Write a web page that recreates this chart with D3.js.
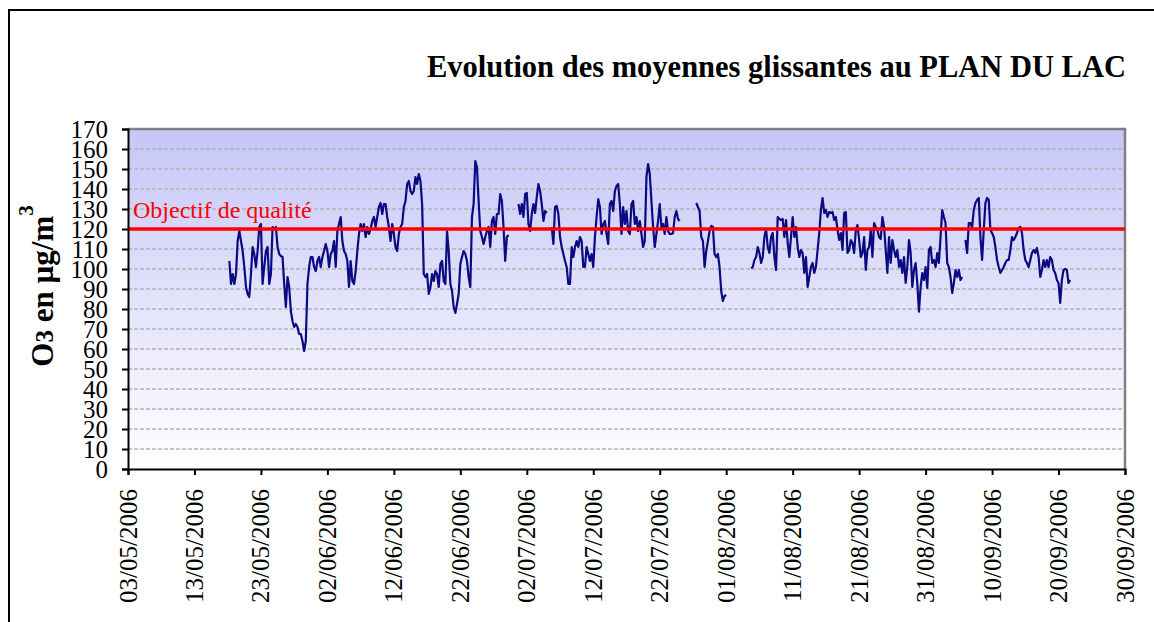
<!DOCTYPE html>
<html><head><meta charset="utf-8">
<script src="https://cdn.jsdelivr.net/npm/d3@7"></script>
<style>body{margin:0;background:#fff;overflow:hidden} svg{display:block}</style>
</head><body>
<svg id="chart" width="1154" height="622"></svg>
<script>
// ---------- data ----------
const chartTitle = "Evolution des moyennes glissantes au PLAN DU LAC";
const thresholdValue = 120;
const thresholdLabel = "Objectif de qualité";
const yTickValues = [0,10,20,30,40,50,60,70,80,90,100,110,120,130,140,150,160,170];
const xTickLabels = ["03/05/2006","13/05/2006","23/05/2006","02/06/2006","12/06/2006","22/06/2006","02/07/2006","12/07/2006","22/07/2006","01/08/2006","11/08/2006","21/08/2006","31/08/2006","10/09/2006","20/09/2006","30/09/2006"];
const seriesStart = "2006-05-18T06:00:00Z";
const stepHours = 6;
const o3Values = [
104,92.5,97.5,92.5,97.5,114,119,114,109,101,
91,87.5,86,97.5,111,107.5,101,109,121,122.5,
92.5,101,109,111,92.5,97.5,121,120,121,111,
107.5,106.5,106,92.5,81,96,91,79,74,71,
72.5,71,67.5,67.5,64,59,64,92.5,101,106,
106,101,99,104,106,101,106,109,112.5,109,
101,107.5,109,114,101,119,122.5,126,114,109,
107.5,104,91,104,94,92.5,99,109,117.5,122.5,
119,122.5,116,121,117.5,120,124,126,121,126,
131,133,127.5,132.5,132.5,126,121,114,122.5,117.5,
111,109,117.5,121,122.5,131,134,142.5,144,139,
137.5,139,146,142.5,147.5,144,132.5,97.5,96,97.5,
87.5,91,97.5,94,99,97.5,91,102.5,104,94,
92.5,119,109,92.5,89,81,78,82.5,87.5,102.5,
106,109,107.5,104,96,91,126,132.5,154,151,
134,119,116,112.5,116,119,121,111,124,126,
117.5,127.5,127.5,137.5,134,121,104,116,117,
null,null,null,null,null,
132.5,127.5,132.5,126,137.5,138,
122.5,119,127.5,132.5,128,136,142.5,139,132.5,124,129,128,
null,null,
121,112.5,131,131.5,127.5,116,
111,107.5,104,101,92.5,92.5,111,106,111,114,
111,116,114,101,101,111,107.5,104,107.5,101,
116,126,135,131,117.5,122.5,124,117.5,112.5,132.5,
134,129,139,141.5,142.5,132.5,117.5,131,122.5,129,
119,117.5,132.5,134,122.5,126,119,124,117.5,111,
114,146,152.5,147.5,134,121,111,117.5,124,132.5,
121,122.5,117.5,126,119,117.5,117.5,118,126,129,125,124,
null,null,null,null,null,null,null,null,null,
133,131,129,116,114,101,109,114,119,
121.5,121,107.5,106,107.5,101,89,84,86.5,87,
null,null,null,null,null,null,null,null,null,null,null,null,null,null,
100.3,101,104.5,106,111,108,
103,106,116,120,111,108,116,118,106,99.5,
126,125,124.5,125,116,124.5,113,106,116,126,
116,121,111,106,109.5,108,98,106,91,96,
101,103,98,101,109.5,118,129.5,135.5,128,129.5,
126,128.5,128,128.5,124.5,126,119.5,114.5,118,109.5,
128,128.5,108,109.5,114.5,113,108,119.5,122,114.5,
106,108,116,99.5,109.5,111,119.5,106,123,121,
119.5,116,115,126,121,109.5,98,116,103,114.5,
109.5,106,109.5,101,104.5,98,106,93,101,114.5,
108,91,99.5,103,93,78.7,91,98,94.5,101,
90.5,109.5,111,103,104.5,101,108,103,116,129.5,
126,123,103,101,96,88,93,99.5,96,99.5,
94.5,96,
null,
114.5,108,123,123,121,129.5,133,
134.5,135.5,116,104.5,119.5,133,135.5,134.5,119.5,118,
116,111,104.5,101,98,99.5,101,103,104.5,104.5,
109.5,116,114.5,116,118,120.5,121,118,109.5,104.5,
103,101,104.5,108,109.5,108,110.5,106,96,99.5,
104.5,101,104.5,101,106,104.5,99.5,98,94.5,93,
83,94.5,99.5,100,99.5,93,94.5
];

// ---------- layout ----------
const plot = {left:128, right:1125, top:129, bottom:469};
const svg = d3.select("#chart");
const serif = "'Liberation Serif','Times New Roman','DejaVu Serif',serif";

const parseDate = s => { const [d,m,yy] = s.split("/").map(Number); return new Date(Date.UTC(yy,m-1,d)); };
const xTicks = xTickLabels.map(parseDate);
const x = d3.scaleUtc().domain([xTicks[0], xTicks[xTicks.length-1]]).range([plot.left, plot.right]);
const y = d3.scaleLinear().domain([0,170]).range([plot.bottom, plot.top]);

const t0 = new Date(seriesStart);
const series = o3Values.map((v,i) => ({t: d3.utcHour.offset(t0, i*stepHours), v}));

// outer frame
svg.append("rect").attr("x",9).attr("y",10).attr("width",1200).attr("height",700)
  .attr("fill","none").attr("stroke","#000").attr("stroke-width",2);

// background gradient
const defs = svg.append("defs");
const grad = defs.append("linearGradient").attr("id","bg").attr("x1",0).attr("y1",0).attr("x2",0).attr("y2",1);
grad.append("stop").attr("offset","0%").attr("stop-color","#c6c6f8");
grad.append("stop").attr("offset","100%").attr("stop-color","#ffffff");
svg.append("rect").attr("x",plot.left).attr("y",plot.top)
  .attr("width",plot.right-plot.left).attr("height",plot.bottom-plot.top).attr("fill","url(#bg)");

// gridlines
svg.append("g").selectAll("line").data(yTickValues.filter(v=>v>0 && v<170)).join("line")
  .attr("x1",plot.left).attr("x2",plot.right).attr("y1",d=>y(d)).attr("y2",d=>y(d))
  .attr("stroke","#b4b4b4").attr("stroke-width",1.3).attr("stroke-dasharray","4,2");

// top & right border (gray)
svg.append("path").attr("d",`M${plot.left},${plot.top}H${plot.right}V${plot.bottom}`)
  .attr("fill","none").attr("stroke","#808080").attr("stroke-width",2.5);

// series line
const line = d3.line().defined(d=>d.v!=null).x(d=>x(d.t)).y(d=>y(d.v));
svg.append("path").datum(series).attr("d",line)
  .attr("fill","none").attr("stroke","#0a0a82").attr("stroke-width",2.2).attr("stroke-linejoin","round");

// threshold line
svg.append("line").attr("x1",plot.left).attr("x2",plot.right)
  .attr("y1",y(thresholdValue)).attr("y2",y(thresholdValue))
  .attr("stroke","#ff0000").attr("stroke-width",3.5);
svg.append("text").attr("x",plot.left+5).attr("y",y(thresholdValue)-11)
  .attr("font-family",serif).attr("font-size",24).attr("fill","#ff0000").text(thresholdLabel);

// y axis
const yAxis = d3.axisLeft(y).tickValues(yTickValues).tickSize(6).tickPadding(14).tickFormat(d3.format("d"));
const gy = svg.append("g").attr("transform",`translate(${plot.left},0)`).call(yAxis);
gy.select(".domain").attr("stroke","#000").attr("stroke-width",2);
gy.selectAll(".tick line").attr("stroke","#000").attr("stroke-width",2);
gy.selectAll(".tick text").attr("font-family",serif).attr("font-size",25).attr("fill","#000")
  .attr("dy","0.34em");

// x axis
const xAxis = d3.axisBottom(x).tickValues(xTicks).tickSize(6).tickFormat((d,i)=>xTickLabels[i]);
const gx = svg.append("g").attr("transform",`translate(0,${plot.bottom})`).call(xAxis);
gx.select(".domain").attr("stroke","#000").attr("stroke-width",2);
gx.selectAll(".tick line").attr("stroke","#000").attr("stroke-width",2);
gx.selectAll(".tick text").attr("font-family",serif).attr("font-size",25).attr("fill","#000")
  .attr("text-anchor","end").attr("dy",null).attr("y",null)
  .attr("transform","translate(8,20) rotate(-90)");

// y label
const yl = svg.append("text").attr("transform","translate(53,286) rotate(-90)")
  .attr("text-anchor","middle").attr("font-family",serif).attr("font-size",31).attr("font-weight","bold");
yl.append("tspan").text("O");
yl.append("tspan").attr("font-size",25).text("3");
yl.append("tspan").text(" en µg/m");
yl.append("tspan").attr("dy",-20).attr("font-size",21).text("3");

// title
svg.append("text").attr("x",1126).attr("y",77).attr("text-anchor","end")
  .attr("font-family",serif).attr("font-size",30.5).attr("font-weight","bold").text(chartTitle);
</script>
</body></html>
